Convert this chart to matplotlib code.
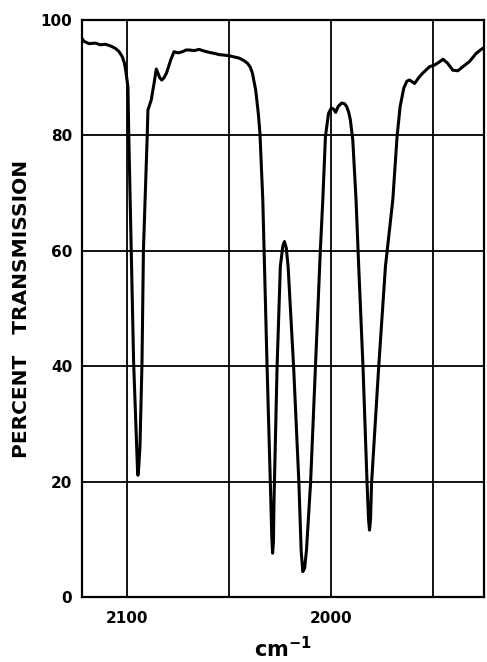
import numpy as np
import matplotlib
matplotlib.use('Agg')
import matplotlib.pyplot as plt

# spectrum (wavenumber in cm-1, percent transmission)
wavenumber = [2122.0, 2121.0, 2118.5, 2115.5, 2113.0, 2110.6, 2108.0, 2105.7, 2103.8, 2102.2,
              2101.2, 2100.6, 2099.9, 2099.5, 2099.1, 2096.7, 2095.2, 2094.8, 2094.6, 2094.2,
              2093.6, 2092.6, 2091.9, 2090.0, 2089.7, 2088.1, 2086.7, 2085.6, 2084.8, 2083.9,
              2082.9, 2081.8, 2080.6, 2078.5, 2076.9, 2075.0, 2072.8, 2071.0, 2069.5, 2067.0,
              2064.6, 2062.0, 2059.7, 2057.0, 2054.8, 2052.0, 2049.9, 2047.5, 2045.0, 2042.8,
              2040.9, 2039.5, 2038.5, 2036.9, 2035.6, 2034.8, 2033.4, 2031.3, 2029.7, 2029.0,
              2028.6, 2028.2, 2027.9, 2026.4, 2024.8, 2023.6, 2022.8, 2021.9, 2021.0, 2018.3,
              2015.7, 2014.6, 2013.8, 2012.9, 2012.0, 2010.0, 2007.6, 2005.2, 2004.0, 2002.7,
              2001.2, 1999.9, 1998.8, 1997.7, 1996.5, 1994.8, 1993.4, 1992.3, 1991.3, 1990.5,
              1989.3, 1987.7, 1986.4, 1984.3, 1982.3, 1981.6, 1981.1, 1980.6, 1980.1, 1976.6,
              1973.3, 1969.7, 1967.6, 1966.1, 1964.3, 1962.8, 1961.5, 1959.0, 1957.0, 1955.0,
              1951.7, 1949.2, 1947.0, 1945.1, 1942.8, 1940.3, 1937.8, 1935.4, 1932.1, 1928.9,
              1926.4, 1925.0]
transmission = [96.8, 96.3, 95.9, 96.0, 95.7, 95.8, 95.5, 95.1, 94.5, 93.6,
                92.5, 91.3, 89.5, 88.4, 80.4, 40.6, 26.0, 22.0, 21.1, 22.5,
                26.0, 40.6, 60.1, 80.4, 84.4, 86.1, 89.0, 91.5, 90.8, 90.0,
                89.6, 90.0, 90.8, 93.1, 94.5, 94.3, 94.5, 94.8, 94.8, 94.7,
                94.9, 94.6, 94.4, 94.2, 94.0, 93.9, 93.8, 93.6, 93.4, 93.0,
                92.5, 91.8, 90.8, 87.9, 83.8, 80.4, 68.8, 39.9, 19.7, 10.5,
                7.6, 9.5, 16.8, 39.9, 57.3, 60.8, 61.6, 60.5, 57.3, 39.9,
                19.7, 8.0, 4.4, 5.0, 8.1, 19.7, 39.9, 60.1, 68.8, 79.8,
                83.8, 84.7, 84.6, 84.0, 85.0, 85.6, 85.5, 85.0, 84.0, 82.7,
                79.2, 68.8, 57.3, 39.9, 19.7, 13.5, 11.6, 13.5, 19.7, 39.9,
                57.3, 68.8, 79.8, 85.0, 88.2, 89.4, 89.6, 89.0, 90.0, 90.8,
                91.9, 92.2, 92.7, 93.2, 92.5, 91.3, 91.2, 91.9, 92.8, 94.2,
                94.9, 95.2]

x_ticks = [2100, 2050, 2000, 1950]
x_tick_labels = ['2100', '', '2000', '']
y_ticks = [0, 20, 40, 60, 80, 100]
y_tick_labels = ['0', '20', '40', '60', '80', '100']

fig = plt.figure(figsize=(4.87, 6.62), dpi=100)
ax = fig.add_axes([82 / 487, 65 / 662, 402 / 487, 577 / 662])

ax.plot(wavenumber, transmission, color='black', lw=2.2, solid_joinstyle='round')

ax.set_xlim(2122, 1925)
ax.set_ylim(0, 100)
ax.set_xticks(x_ticks)
ax.set_xticklabels(x_tick_labels, fontsize=11, fontweight='bold')
ax.set_yticks(y_ticks)
ax.set_yticklabels(y_tick_labels, fontsize=11, fontweight='bold')
ax.tick_params(axis='both', length=0)
ax.tick_params(axis='x', pad=10)
ax.tick_params(axis='y', pad=7)
ax.grid(True, color='black', lw=1.3)
ax.set_axisbelow(True)
for s in ax.spines.values():
    s.set_linewidth(1.6)

ax.set_ylabel('PERCENT   TRANSMISSION', fontsize=14.5, fontweight='bold', labelpad=7)
ax.set_xlabel(r'$\mathbf{cm^{-1}}$', fontsize=15, labelpad=7)

fig.savefig('out.png', dpi=100)
